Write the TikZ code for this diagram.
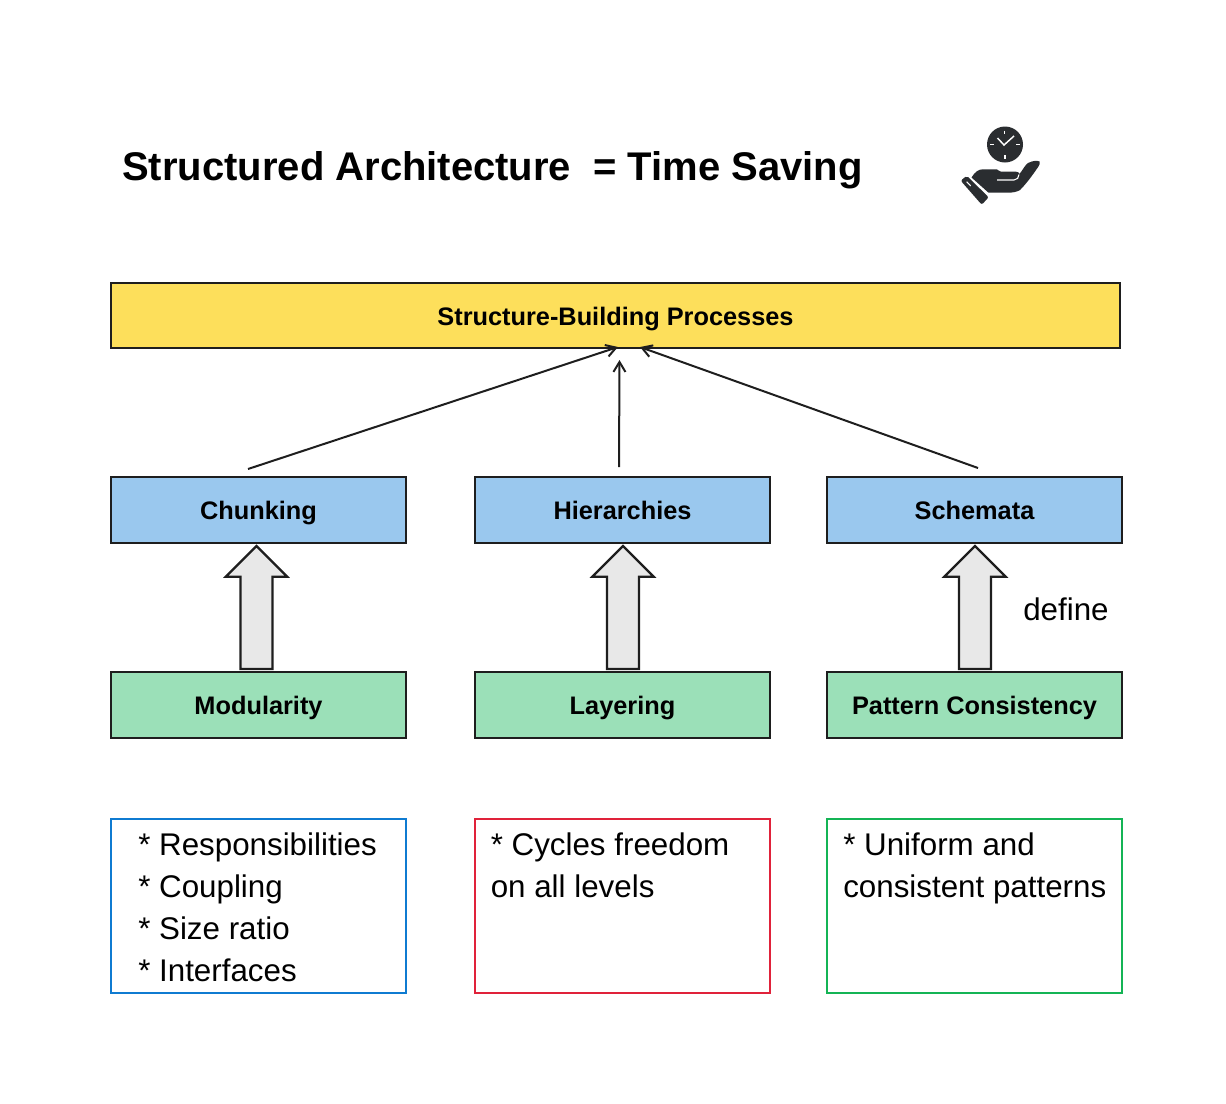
\documentclass[tikz,border=0pt]{standalone}
\usepackage{fontspec}
\setmainfont{Liberation Sans}
\usepackage{xcolor}
\usetikzlibrary{arrows.meta,positioning,calc,shapes.arrows}
\definecolor{inkblack}{HTML}{1E1E1E}
\definecolor{procyellow}{HTML}{FDDF5B}
\definecolor{conceptblue}{HTML}{9AC8EE}
\definecolor{practicegreen}{HTML}{9BE0B8}
\definecolor{listblue}{HTML}{0F7BD1}
\definecolor{listred}{HTML}{E0223A}
\definecolor{listgreen}{HTML}{14B455}
\definecolor{iconink}{HTML}{2A2D30}

\begin{document}
\begin{tikzpicture}[
  x=0.75pt,y=-0.75pt,
  every node/.style={text=black,align=left},
  arrow/.style={-{Straight Barb[length=7.5pt,width=9pt]},line width=1.5pt,draw=inkblack},
  box/.style={rectangle,draw=inkblack,line width=1.6pt,outer sep=0pt,
              minimum width=221.25pt,minimum height=49.5pt,text height=16pt,text depth=1.5pt,
              font=\fontsize{19}{23}\selectfont\bfseries},
  concept/.style={box,fill=conceptblue},
  practice/.style={box,fill=practicegreen},
  listbox/.style={rectangle,line width=1.5pt,outer sep=0pt,
                  minimum width=221.25pt,minimum height=130.5pt},
  listtext/.style={anchor=north west,inner xsep=0pt,inner ysep=0pt,
                   font=\fontsize{23.5}{31.5}\selectfont},
  bigarrow/.style={single arrow,draw=inkblack,fill=black!9,line width=1.7pt,rotate=90,
                   minimum height=92.25pt,minimum width=45pt,inner xsep=0pt,inner ysep=11.2pt,
                   single arrow head extend=11pt,single arrow tip angle=90}
]
\useasboundingbox (0,0) rectangle (1226,1103);

\node[anchor=west,inner sep=0pt,font=\fontsize{30}{36}\selectfont\bfseries] (title) at (122,170)
  {Structured Architecture\ \ = Time Saving};

\node[box,fill=procyellow,minimum width=756.75pt,minimum height=48.75pt] (proc) at (615.5,315.5) {Structure-Building Processes};

\node[concept] (chunk) at (258.5,510) {Chunking};
\node[concept,right=51.75pt of chunk] (hier) {Hierarchies};
\node[concept,right=42.75pt of hier] (schem) {Schemata};

\node[practice,below=96.75pt of chunk] (modul) {Modularity};
\node[practice,below=96.75pt of hier] (layer) {Layering};
\node[practice,below=96.75pt of schem] (pattern) {Pattern Consistency};

\node[listbox,draw=listblue,below=60.75pt of modul] (modlist) {};
\node[listbox,draw=listred,below=60.75pt of layer] (laylist) {};
\node[listbox,draw=listgreen,below=60.75pt of pattern] (patlist) {};

\node[listtext] (modtext) at ($(modlist.north west)+(27,13.5)$)
  {* Responsibilities\\* Coupling\\* Size ratio\\* Interfaces};
\node[listtext] (laytext) at ($(laylist.north west)+(15.5,13.5)$)
  {* Cycles freedom\\on all levels};
\node[listtext] (pattext) at ($(patlist.north west)+(16,13.5)$)
  {* Uniform and\\consistent patterns};

% block arrows between the two rows
\node[bigarrow] (modup) at ($(modul.north)!.5!(chunk.south)+(-2,8)$) {};
\node[bigarrow] (layup) at ($(layer.north)!.5!(hier.south)+(.5,8)$) {};
\node[bigarrow] (patup) at ($(pattern.north)!.5!(schem.south)+(.5,8)$) {};

\node[anchor=west,inner sep=0pt,font=\fontsize{23.5}{27}\selectfont] (define) at (1023,609) {define};

\coordinate (chunkout) at ($(chunk.north)+(-10.5,-8)$);
\coordinate (hierout) at ($(hier.north)+(-3.5,-10)$);
\coordinate (schemout) at ($(schem.north)+(3.5,-9)$);
\coordinate (procleft) at ($(proc.south)+(2.5,-1)$);
\coordinate (procmid) at ($(proc.south)+(4,12)$);
\coordinate (procright) at ($(proc.south)+(24.5,-1)$);

\draw[arrow] (chunkout) -- (procleft);
\draw[arrow] (hierout) -- (procmid);
\draw[arrow] (schemout) -- (procright);

% hand and clock icon
\fill[iconink] (1005,144.5) circle (18);
\draw[white,line width=.9pt] (1004.5,130.5) -- (1004.5,134) (1005,155) -- (1005,159)
  (990,144.5) -- (993.5,144.5) (1016,144.5) -- (1019.5,144.5);
\draw[white,line width=1.1pt] (997.5,138) -- (1004,145) -- (1014,136);
\fill[iconink,rounded corners=1.5pt] (960.7,180.7) -- (966.7,175.7) -- (988.7,197.3) -- (981.7,204.7) -- cycle;
\draw[white,line width=.8pt] (966.7,181.7) -- (970.7,186);
\fill[iconink] (971.5,177.5) .. controls (975,172) and (978,169.3) .. (983,169.3)
  -- (996.7,169.3) .. controls (998,169.3) and (999,171.7) .. (1001,171.7)
  -- (1016,171.7) .. controls (1018,171.7) and (1019,172.5) .. (1019.5,174)
  .. controls (1022,171) and (1025,165) .. (1028,163)
  .. controls (1033,160.5) and (1037,160.5) .. (1039.5,161.5)
  .. controls (1040.5,163) and (1039.5,165) .. (1038.3,166.7)
  .. controls (1032,176) and (1026,184) .. (1020,190)
  .. controls (1017,192) and (1012,192.7) .. (1008.3,192.7)
  -- (988.5,192.7) -- cycle;
\draw[white,line width=.8pt] (997,180) -- (1014,180) .. controls (1017,180) and (1019,177.5) .. (1019,174.5);
\end{tikzpicture}
\end{document}
